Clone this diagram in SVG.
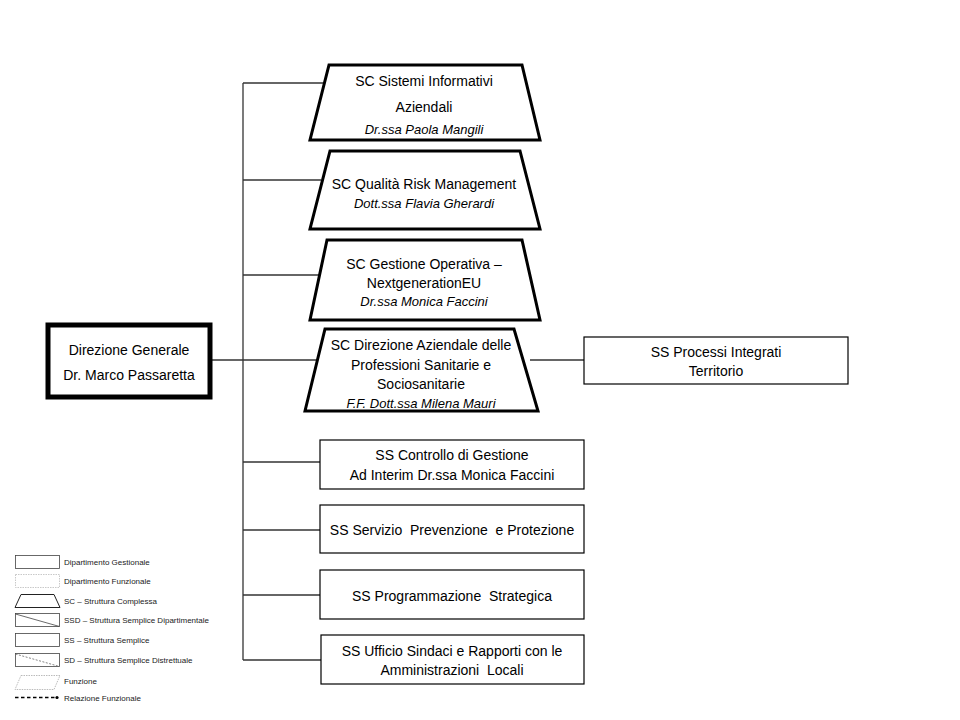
<svg xmlns="http://www.w3.org/2000/svg" width="960" height="720" viewBox="0 0 960 720">
<style>
text{font-family:"Liberation Sans",Arial,sans-serif;fill:#000;text-anchor:middle;white-space:pre}
.t{font-size:14px}
.i{font-size:13px;font-style:italic}
.sc{fill:#fff;stroke:#000;stroke-width:3}
.ss{fill:#fff;stroke:#000;stroke-width:1.2}
.dg{fill:#fff;stroke:#000;stroke-width:5}
.con{stroke:#333;stroke-width:1.3;fill:none}
.lg{font-size:8px;text-anchor:start;fill:#222}
.lb{fill:#fff;stroke:#444;stroke-width:0.8}
</style>
<rect width="960" height="720" fill="#fff"/>
<g id="connectors">
<path class="con" d="M243,83 V660"/>
<path class="con" d="M243,83 H323"/>
<path class="con" d="M243,180 H321"/>
<path class="con" d="M243,275 H320"/>
<path class="con" d="M210,360 H318"/>
<path class="con" d="M530,360 H584"/>
<path class="con" d="M243,462 H320"/>
<path class="con" d="M243,530 H320"/>
<path class="con" d="M243,595 H320"/>
<path class="con" d="M243,660 H321"/>
</g>
<g id="dg">
<rect class="dg" x="48" y="325" width="162" height="72"/>
<text class="t" x="129" y="355">Direzione Generale</text>
<text class="t" x="129" y="380">Dr. Marco Passaretta</text>
</g>
<g id="sc1">
<polygon class="sc" points="329,65 522,65 540,140 310,140"/>
<text class="t" x="424" y="86">SC Sistemi Informativi</text>
<text class="t" x="424" y="112">Aziendali</text>
<text class="i" x="424" y="134">Dr.ssa Paola Mangili</text>
</g>
<g id="sc2">
<polygon class="sc" points="330,151 520,151 540,229 310,229"/>
<text class="t" x="424" y="189">SC Qualità Risk Management</text>
<text class="i" x="424" y="208">Dott.ssa Flavia Gherardi</text>
</g>
<g id="sc3">
<polygon class="sc" points="327,240 522,240 540,320 310,320"/>
<text class="t" x="424" y="269">SC Gestione Operativa –</text>
<text class="t" x="424" y="288">NextgenerationEU</text>
<text class="i" x="424" y="306">Dr.ssa Monica Faccini</text>
</g>
<g id="sc4">
<polygon class="sc" points="325,329 514,329 538,411 305,411"/>
<text class="t" x="421" y="350">SC Direzione Aziendale delle</text>
<text class="t" x="421" y="370">Professioni Sanitarie e</text>
<text class="t" x="421" y="389">Sociosanitarie</text>
<text class="i" x="421" y="408">F.F. Dott.ssa Milena Mauri</text>
</g>
<g id="ss-processi">
<rect class="ss" x="584" y="337" width="264" height="47"/>
<text class="t" x="716" y="357">SS Processi Integrati</text>
<text class="t" x="716" y="376">Territorio</text>
</g>
<g id="ss-controllo">
<rect class="ss" x="320" y="440" width="264" height="49"/>
<text class="t" x="452" y="460">SS Controllo di Gestione</text>
<text class="t" x="452" y="480">Ad Interim Dr.ssa Monica Faccini</text>
</g>
<g id="ss-servizio">
<rect class="ss" x="320" y="505" width="264" height="48"/>
<text class="t" x="452" y="535">SS Servizio  Prevenzione  e Protezione</text>
</g>
<g id="ss-programmazione">
<rect class="ss" x="320" y="570" width="264" height="49"/>
<text class="t" x="452" y="601">SS Programmazione  Strategica</text>
</g>
<g id="ss-ufficio">
<rect class="ss" x="321" y="635" width="263" height="49"/>
<text class="t" x="452" y="656">SS Ufficio Sindaci e Rapporti con le</text>
<text class="t" x="452" y="675">Amministrazioni  Locali</text>
</g>
<g id="legend">
<rect class="lb" x="15.5" y="555.5" width="44" height="13"/>
<text class="lg" x="64" y="565">Dipartimento Gestionale</text>
<rect x="15.5" y="574.5" width="44" height="13" fill="#fff" stroke="#bbb" stroke-width="0.8" stroke-dasharray="1.5,1"/>
<text class="lg" x="64" y="584">Dipartimento Funzionale</text>
<polygon points="21,594.5 54,594.5 60,607.5 15,607.5" fill="#fff" stroke="#222" stroke-width="1"/>
<text class="lg" x="64" y="604">SC – Struttura Complessa</text>
<rect class="lb" x="15.5" y="613.5" width="44" height="13"/>
<line x1="15.5" y1="614" x2="59.5" y2="626.5" stroke="#444" stroke-width="0.8"/>
<text class="lg" x="64" y="623">SSD – Struttura Semplice Dipartimentale</text>
<rect class="lb" x="15.5" y="633.5" width="44" height="13"/>
<text class="lg" x="64" y="643">SS – Struttura Semplice</text>
<rect class="lb" x="15.5" y="653.5" width="44" height="13"/>
<line x1="15.5" y1="654" x2="59.5" y2="666.5" stroke="#666" stroke-width="0.8" stroke-dasharray="2,1.5"/>
<text class="lg" x="64" y="663">SD – Struttura Semplice Distrettuale</text>
<polygon points="21,675.5 60,675.5 54,689.5 15,689.5" fill="#fff" stroke="#aaa" stroke-width="0.8" stroke-dasharray="1.5,1"/>
<text class="lg" x="64" y="684">Funzione</text>
<line x1="15" y1="697.5" x2="56" y2="697.5" stroke="#000" stroke-width="1.5" stroke-dasharray="3.5,2.5"/>
<circle cx="57" cy="697.5" r="1.6" fill="#000"/>
<text class="lg" x="64" y="701">Relazione Funzionale</text>
</g>
</svg>
